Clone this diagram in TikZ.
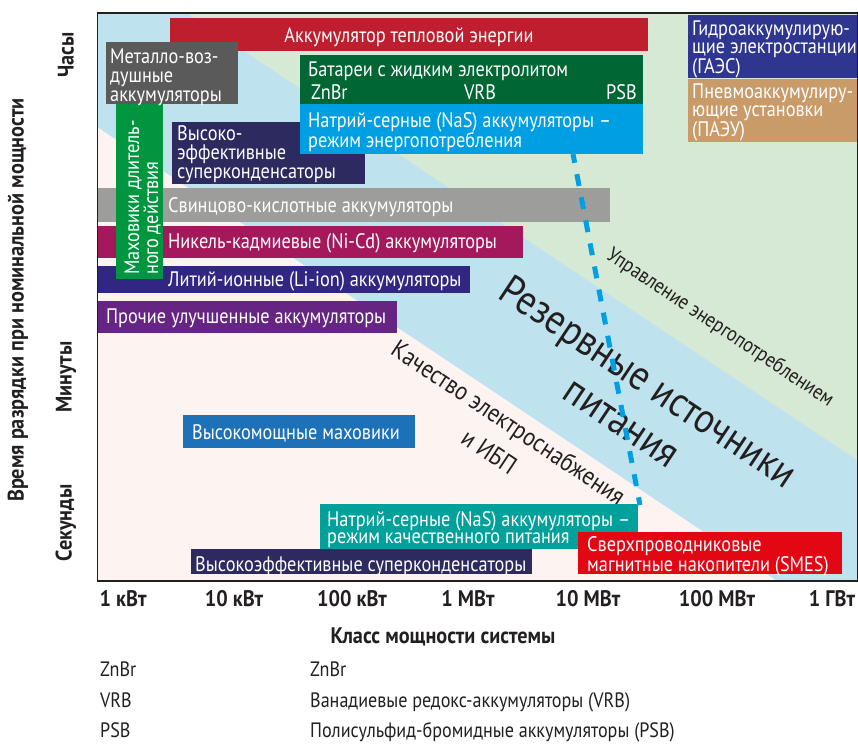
\documentclass[tikz,border=0pt]{standalone}
\usepackage{fontspec}
\setmainfont{PT Sans}[FakeStretch=0.87,BoldFeatures={FakeStretch=0.9}]
\newcommand\Lns[1]{\vtop{\halign{##\hfil\cr#1\crcr}}}
\definecolor{bgpink}{HTML}{FDF4F2}
\definecolor{bgblue}{HTML}{BFE3EE}
\definecolor{bggreen}{HTML}{D6E9D4}
\definecolor{cthermal}{HTML}{BE1E2D}
\definecolor{cmetal}{HTML}{5A5A5A}
\definecolor{cfly}{HTML}{00963F}
\definecolor{cnavy}{HTML}{2C2A5E}
\definecolor{cbatt}{HTML}{006633}
\definecolor{ccyan}{HTML}{009FE3}
\definecolor{chydro}{HTML}{2E368F}
\definecolor{ctan}{HTML}{C89B68}
\definecolor{clead}{HTML}{9D9D9C}
\definecolor{cnicd}{HTML}{A3195B}
\definecolor{cliion}{HTML}{312783}
\definecolor{cother}{HTML}{662483}
\definecolor{chpfly}{HTML}{1D71B8}
\definecolor{cteal}{HTML}{00A19A}
\definecolor{csmes}{HTML}{E30613}
\definecolor{ink}{HTML}{231F20}
\begin{document}
\begin{tikzpicture}[x=1pt,y=-1pt,
  box/.style={inner sep=0pt, outer sep=0pt, anchor=north west, draw=none},
  tx/.style={text=white, inner sep=0pt, font=\fontsize{21}{19}\selectfont},
  ax/.style={text=ink, inner sep=0pt, font=\bfseries\fontsize{22.5}{22}\selectfont},
  lg/.style={text=ink, inner sep=0pt, anchor=base west, font=\fontsize{20.8}{20}\selectfont},
  bgt/.style={text=ink, inner sep=0pt, rotate=-33.7, align=center}]
\useasboundingbox (0,0) rectangle (858,744);
% background bands
\fill[bgblue] (97,13) rectangle (857,581);
\fill[bggreen] (187,13) -- (857,13) -- (857,460) -- cycle;
\fill[bgpink] (97,127) -- (777,581) -- (97,581) -- cycle;
% background texts
\node[bgt, font=\fontsize{21}{21}\selectfont] (t-mgmt) at (720,328) {Управление энергопотреблением};
\node[bgt, font=\fontsize{42}{48}\selectfont] (t-reserve) at (636,401) {Резервные источники\\питания};
\node[bgt, font=\fontsize{25.5}{35}\selectfont] (t-quality) at (499,437) {Качество электроснабжения\\и ИБП};
% boxes
\node[box, fill=cthermal, minimum width=478pt, minimum height=33pt] (thermal) at (170,18) {};
\node[box, fill=cmetal, minimum width=132pt, minimum height=62pt] (metal) at (106,42) {};
\node[box, fill=cnavy, minimum width=193pt, minimum height=62pt] (superk) at (172,122) {};
\node[box, fill=cbatt, minimum width=343pt, minimum height=49pt] (batt) at (300,55) {};
\node[box, fill=ccyan, minimum width=343pt, minimum height=50pt] (nascyan) at (300,104) {};
\node[box, fill=chydro, minimum width=170pt, minimum height=63pt] (hydro) at (688,15) {};
\node[box, fill=ctan, minimum width=170pt, minimum height=63pt] (pneumo) at (688,79) {};
\node[box, fill=clead, minimum width=513pt, minimum height=34pt] (lead) at (97,188) {};
\node[box, fill=cnicd, minimum width=426pt, minimum height=32pt] (nicd) at (97,226) {};
\node[box, fill=cliion, minimum width=373pt, minimum height=27pt] (liion) at (97,266) {};
\node[box, fill=cother, minimum width=300pt, minimum height=32pt] (other) at (97,301) {};
\node[box, fill=cfly, minimum width=47pt, minimum height=175pt] (fly) at (116,104) {};
\node[box, fill=chpfly, minimum width=232pt, minimum height=33pt] (hpfly) at (183,415) {};
\node[box, fill=cteal, minimum width=318pt, minimum height=45pt] (teal) at (320,504) {};
\node[box, fill=cnavy, minimum width=341pt, minimum height=25pt] (superk2) at (191,549) {};
\node[box, fill=csmes, minimum width=264pt, minimum height=42pt] (smes) at (578,532) {};
% box texts
\node[tx, anchor=base] (t-thermal) at (409,42) {Аккумулятор тепловой энергии};
\node[tx, anchor=base west] (t-metal) at (110,63) {\Lns{Металло-воз-\cr душные\cr аккумуляторы}};
\node[tx, anchor=base west, rotate=90] (t-fly) at (139,275) {\Lns{Маховики длитель-\cr ного действия}};
\node[tx, anchor=base west] (t-superk) at (177,140) {\Lns{Высоко-\cr эффективные\cr суперконденсаторы}};
\node[tx, anchor=base west] (t-batt) at (308,76) {Батареи с жидким электролитом};
\node[tx, anchor=base west] (t-znbr) at (311,99) {ZnBr};
\node[tx, anchor=base] (t-vrb) at (480,99) {VRB};
\node[tx, anchor=base east] (t-psb) at (637,99) {PSB};
\node[tx, anchor=base west] (t-nas) at (308,127) {\Lns{Натрий-серные (NaS) аккумуляторы –\cr режим энергопотребления}};
\node[tx, anchor=base west, font=\fontsize{21}{18.5}\selectfont] (t-hydro) at (692,35) {\Lns{Гидроаккумулирую-\cr щие электростанции\cr (ГАЭС)}};
\node[tx, anchor=base west, font=\fontsize{21}{18.5}\selectfont] (t-pneumo) at (692,98) {\Lns{Пневмоаккумулиру-\cr ющие установки\cr (ПАЭУ)}};
\node[tx, anchor=base west] (t-lead) at (168,212) {Свинцово-кислотные аккумуляторы};
\node[tx, anchor=base west] (t-nicd) at (168,248) {Никель-кадмиевые (Ni-Cd) аккумуляторы};
\node[tx, anchor=base west] (t-liion) at (168,286) {Литий-ионные (Li-ion) аккумуляторы};
\node[tx, anchor=base west] (t-other) at (106,323) {Прочие улучшенные аккумуляторы};
\node[tx, anchor=base west] (t-hpfly) at (192,439) {Высокомощные маховики};
\node[tx, anchor=base west, font=\fontsize{21}{17.5}\selectfont] (t-teal) at (327,526) {\Lns{Натрий-серные (NaS) аккумуляторы –\cr режим качественного питания}};
\node[tx, anchor=base west] (t-superk2) at (195,571) {Высокоэффективные суперконденсаторы};
\node[tx, anchor=base west, font=\fontsize{21}{18}\selectfont] (t-smes) at (587,551) {\Lns{Сверхпроводниковые\cr магнитные накопители (SMES)}};
% dashed connector
\coordinate (d1) at (573,154);
\coordinate (d2) at (640,505);
\draw[ccyan, line width=5pt, dash pattern=on 12pt off 11.5pt, dash phase=3pt] (d1) -- (d2);
% frame
\draw[ink, line width=1.3pt] (97.5,13) rectangle (857.3,581);
% axis labels
\node[ax, rotate=90] (l-hours) at (66,55) {Часы};
\node[ax, rotate=90] (l-min) at (66,377) {Минуты};
\node[ax, rotate=90] (l-sec) at (66,523) {Секунды};
\node[ax, rotate=90] (l-ytitle) at (18,300) {Время разрядки при номинальной мощности};
\node[ax, anchor=base] (x1) at (123,606) {1 кВт};
\node[ax, anchor=base] (x2) at (234,606) {10 кВт};
\node[ax, anchor=base] (x3) at (352,606) {100 кВт};
\node[ax, anchor=base] (x4) at (468,606) {1 МВт};
\node[ax, anchor=base] (x5) at (588,606) {10 МВт};
\node[ax, anchor=base] (x6) at (717,606) {100 МВт};
\node[ax, anchor=base] (x7) at (832,606) {1 ГВт};
\node[ax] (xtitle) at (443,637) {Класс мощности системы};
% legend
\node[lg] (lg1a) at (100,676) {ZnBr};
\node[lg] (lg2a) at (100,707) {VRB};
\node[lg] (lg3a) at (100,737) {PSB};
\node[lg] (lg1b) at (310,676) {ZnBr};
\node[lg] (lg2b) at (310,707) {Ванадиевые редокс-аккумуляторы (VRB)};
\node[lg] (lg3b) at (310,737) {Полисульфид-бромидные аккумуляторы (PSB)};
\end{tikzpicture}
\end{document}
